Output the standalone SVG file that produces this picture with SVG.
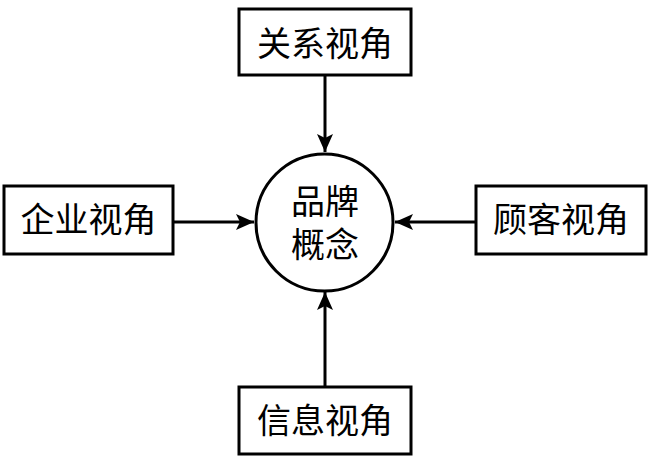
<svg xmlns="http://www.w3.org/2000/svg" width="650" height="460" viewBox="0 0 650 460">
<style>
.box{fill:#fff;stroke:#000;stroke-width:3}
.lbl{font-family:"Liberation Serif","Noto Sans CJK SC",serif;font-size:34px;fill:#000;text-anchor:middle}
.con{stroke:#000;stroke-width:3;fill:none}
</style>
<defs>
<marker id="ah" viewBox="0 0 18 16" refX="18" refY="8" markerWidth="18" markerHeight="16" markerUnits="userSpaceOnUse" orient="auto">
<path d="M0,0 L18,8 L0,16 L4,8 Z" fill="#000"/>
</marker>
</defs>
<rect width="650" height="460" fill="#fff"/>
<g id="connectors">
<line class="con" x1="325" y1="76" x2="325" y2="152" marker-end="url(#ah)"/>
<line class="con" x1="174" y1="222" x2="254" y2="222" marker-end="url(#ah)"/>
<line class="con" x1="475" y1="222" x2="395" y2="222" marker-end="url(#ah)"/>
<line class="con" x1="325" y1="386" x2="325" y2="292" marker-end="url(#ah)"/>
</g>
<g id="center">
<circle cx="324.5" cy="222.5" r="68.5" fill="#fff" stroke="#000" stroke-width="3"/>
<text class="lbl" x="325" y="214">品牌</text>
<text class="lbl" x="325" y="257">概念</text>
</g>
<g id="top">
<rect class="box" x="239" y="9" width="172" height="66"/>
<text class="lbl" x="325" y="56">关系视角</text>
</g>
<g id="left">
<rect class="box" x="4" y="186" width="169" height="68"/>
<text class="lbl" x="88.5" y="232">企业视角</text>
</g>
<g id="right">
<rect class="box" x="476" y="186" width="170" height="68"/>
<text class="lbl" x="561" y="232">顾客视角</text>
</g>
<g id="bottom">
<rect class="box" x="239" y="387" width="172" height="67"/>
<text class="lbl" x="325" y="433">信息视角</text>
</g>
</svg>
